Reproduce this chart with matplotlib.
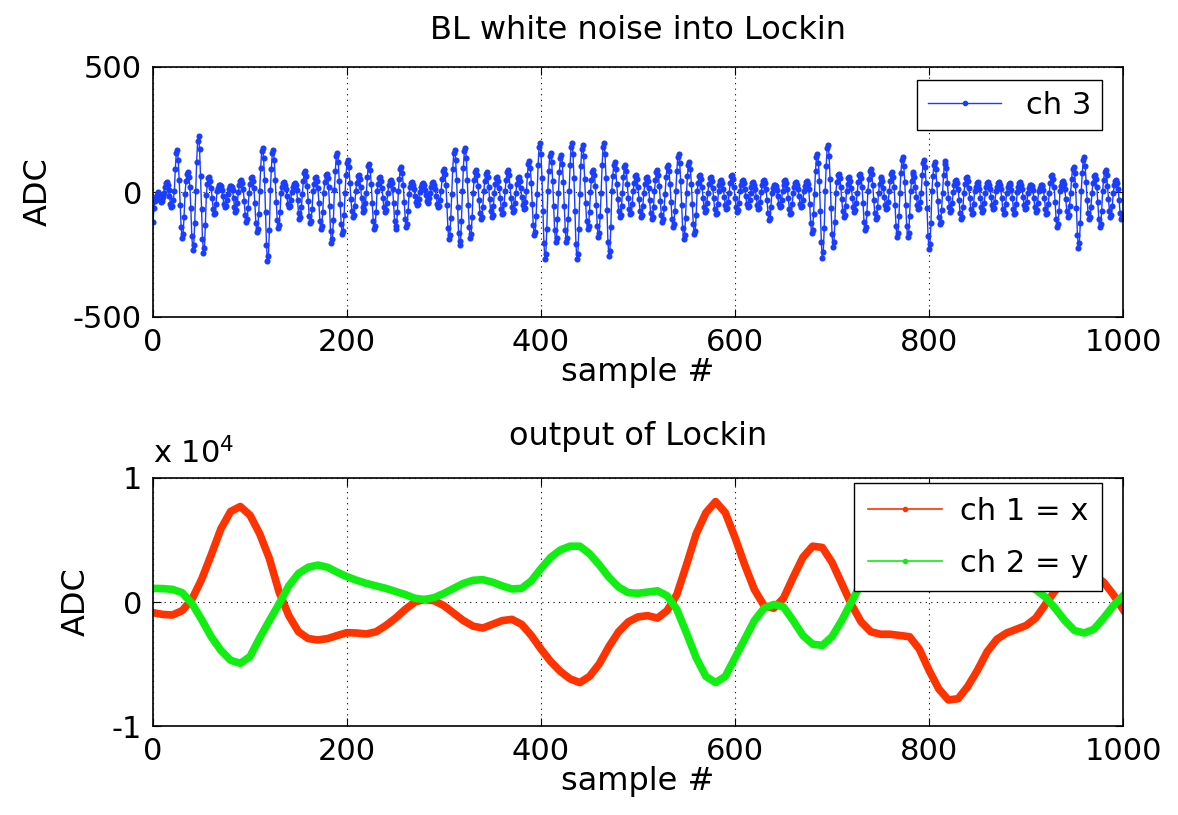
import numpy as np
import matplotlib
matplotlib.use("Agg")
import matplotlib.pyplot as plt
from matplotlib.lines import Line2D

plt.rcParams["font.family"] = ["DejaVu Sans"]
plt.rcParams["axes.unicode_minus"] = False

# ch 3: band-limited noise fed into the lockin, one value per sample
ch3 = [
    -120, -65, -35, -20, -10, 2, -8, -30, -40, -35, -20,
    -5, 20, 36, 40, 30, 10, -17, -46, -59, -55, -32,
    4, 92, 155, 168, 129, 48, -52, -141, -183, -168, -100,
    -8, 43, 73, 79, 61, 22, -65, -176, -230, -211, -125,
    6, 122, 205, 223, 171, 63, -69, -186, -243, -223, -132,
    -10, 32, 55, 59, 46, 17, -25, -68, -89, -82, -49,
    3, 16, 27, 30, 23, 8, -17, -46, -59, -55, -32,
    -6, 14, 23, 25, 19, 7, -22, -61, -79, -73, -43,
    2, 27, 46, 50, 38, 14, -34, -91, -119, -109, -65,
    -4, 32, 55, 59, 46, 17, -45, -122, -158, -146, -86,
    5, 97, 164, 178, 137, 50, -78, -213, -277, -255, -151,
    8, 92, 155, 168, 129, 48, -41, -110, -144, -132, -78,
    -3, 22, 36, 40, 30, 11, -17, -46, -59, -55, -32,
    2, 19, 32, 35, 27, 10, -31, -84, -109, -100, -59,
    -6, 46, 77, 84, 65, 24, -35, -95, -124, -114, -68,
    4, 32, 55, 59, 46, 17, -42, -114, -149, -137, -81,
    -2, 41, 68, 74, 57, 21, -57, -156, -203, -187, -111,
    7, 86, 146, 158, 122, 45, -48, -129, -168, -155, -92,
    -5, 70, 118, 129, 99, 36, -28, -76, -99, -91, -54,
    3, 38, 64, 69, 53, 20, -22, -61, -79, -73, -43,
    -4, 62, 105, 114, 87, 32, -42, -114, -149, -137, -81,
    6, 32, 55, 59, 46, 17, -22, -61, -79, -73, -43,
    -2, 27, 46, 50, 38, 14, -42, -114, -149, -137, -81,
    5, 54, 91, 99, 76, 28, -39, -106, -139, -127, -76,
    -7, 22, 36, 40, 30, 11, -14, -38, -50, -46, -27,
    2, 19, 32, 35, 27, 10, -13, -34, -45, -41, -24,
    -3, 22, 36, 40, 30, 11, -17, -46, -59, -55, -32,
    4, 51, 86, 94, 72, 27, -53, -144, -188, -173, -103,
    -6, 92, 155, 168, 129, 48, -60, -163, -213, -196, -116,
    3, 97, 164, 178, 137, 50, -52, -141, -183, -168, -100,
    -5, 49, 82, 89, 68, 25, -31, -84, -109, -100, -59,
    4, 43, 73, 79, 61, 22, -28, -76, -99, -91, -54,
    -2, 32, 55, 59, 46, 17, -25, -68, -89, -82, -49,
    6, 49, 82, 89, 68, 25, -22, -61, -79, -73, -43,
    -4, 32, 55, 59, 46, 17, -20, -53, -69, -64, -38,
    3, 68, 114, 124, 95, 35, -49, -133, -173, -159, -95,
    -6, 108, 182, 198, 152, 56, -76, -205, -267, -246, -146,
    5, 86, 146, 158, 122, 45, -56, -152, -198, -182, -108,
    -3, 81, 137, 149, 114, 42, -56, -152, -198, -182, -108,
    4, 108, 182, 198, 152, 56, -76, -207, -269, -248, -147,
    -7, 103, 173, 188, 144, 53, -42, -114, -149, -137, -81,
    2, 49, 82, 89, 68, 25, -50, -137, -178, -164, -97,
    -5, 108, 182, 198, 152, 56, -73, -198, -257, -237, -140,
    6, 65, 109, 119, 91, 34, -28, -76, -99, -91, -54,
    -3, 59, 100, 109, 84, 31, -25, -68, -89, -82, -49,
    4, 38, 64, 69, 53, 20, -28, -76, -99, -91, -54,
    -2, 32, 55, 59, 46, 17, -31, -84, -109, -100, -59,
    5, 49, 82, 89, 68, 25, -34, -91, -119, -109, -65,
    -6, 59, 100, 109, 84, 31, -39, -106, -139, -127, -76,
    3, 84, 141, 153, 118, 43, -53, -144, -188, -173, -103,
    -4, 65, 109, 119, 91, 34, -48, -129, -168, -155, -92,
    5, 38, 64, 69, 53, 20, -22, -61, -79, -73, -43,
    -2, 32, 55, 59, 46, 17, -25, -68, -89, -82, -49,
    4, 27, 46, 50, 38, 14, -20, -53, -69, -64, -38,
    -5, 38, 64, 69, 53, 20, -22, -61, -79, -73, -43,
    3, 27, 46, 50, 38, 14, -17, -46, -59, -55, -32,
    -4, 22, 36, 40, 30, 11, -20, -53, -69, -64, -38,
    2, 27, 46, 50, 38, 14, -31, -85, -111, -102, -60,
    -3, 16, 27, 30, 23, 8, -17, -46, -59, -55, -32,
    5, 27, 46, 50, 38, 14, -25, -68, -89, -82, -49,
    -2, 22, 36, 40, 30, 11, -17, -46, -59, -55, -32,
    4, 24, 41, 45, 34, 13, -46, -125, -163, -150, -89,
    -6, 84, 141, 153, 118, 43, -74, -201, -262, -241, -143,
    5, 104, 175, 190, 146, 54, -62, -167, -218, -200, -119,
    -3, 41, 68, 74, 57, 21, -28, -76, -99, -91, -54,
    4, 32, 55, 59, 46, 17, -22, -61, -79, -73, -43,
    -5, 41, 68, 74, 57, 21, -43, -118, -153, -141, -84,
    3, 51, 86, 94, 72, 27, -31, -84, -109, -100, -59,
    -2, 32, 55, 59, 46, 17, -20, -53, -69, -64, -38,
    5, 43, 73, 79, 61, 22, -50, -137, -178, -164, -97,
    -4, 76, 127, 139, 106, 39, -50, -137, -178, -164, -97,
    3, 43, 73, 79, 61, 22, -20, -53, -69, -64, -38,
    -5, 70, 118, 129, 99, 36, -64, -175, -228, -209, -124,
    4, 65, 109, 119, 91, 34, -36, -99, -129, -118, -70,
    -3, 68, 114, 124, 95, 35, -22, -61, -79, -73, -43,
    2, 27, 46, 50, 38, 14, -31, -84, -109, -100, -59,
    -4, 32, 55, 59, 46, 17, -25, -68, -89, -82, -49,
    3, 22, 36, 40, 30, 11, -22, -61, -79, -73, -43,
    -2, 22, 36, 40, 30, 11, -20, -53, -69, -64, -38,
    4, 22, 36, 40, 30, 11, -25, -68, -89, -82, -49,
    -3, 19, 32, 35, 27, 10, -25, -68, -89, -82, -49,
    2, 22, 36, 40, 30, 11, -20, -53, -69, -64, -38,
    -4, 16, 27, 30, 23, 8, -22, -61, -79, -73, -43,
    3, 16, 27, 30, 23, 8, -25, -68, -89, -82, -49,
    -2, 38, 64, 69, 53, 20, -39, -106, -139, -127, -76,
    4, 24, 41, 45, 34, 13, -28, -76, -99, -91, -54,
    -5, 54, 91, 99, 76, 28, -63, -171, -223, -205, -122,
    6, 76, 127, 139, 106, 39, -31, -84, -109, -100, -59,
    -3, 38, 64, 69, 53, 20, -39, -106, -139, -127, -76,
    4, 49, 82, 89, 68, 25, -28, -76, -99, -91, -54,
    -2, 27, 46, 50, 38, 14, -31, -84, -109, -100, -105,
]
sample = np.arange(len(ch3))

# lockin outputs, read every 10 samples
lock_n = np.arange(0, 1001, 10)
ch1_x = [
    -860, -1000, -1050, -700, 200, 1800, 3800, 5900, 7300, 7700,
    7000, 5500, 3500, 800, -1100, -2400, -2950, -3060, -2950, -2700,
    -2470, -2500, -2580, -2400, -1900, -1300, -600, 0, 200, 100,
    -300, -900, -1500, -1950, -2100, -1800, -1500, -1400, -1800, -2700,
    -3800, -4800, -5600, -6200, -6500, -6000, -5000, -3600, -2400, -1600,
    -1200, -1100, -1300, -700, 600, 3000, 5500, 7200, 8100, 7200,
    5200, 3000, 1000, -300, -500, 300, 2000, 3600, 4500, 4400,
    3200, 1500, -200, -1600, -2400, -2600, -2600, -2700, -2800, -3800,
    -5500, -7000, -7900, -7800, -6800, -5500, -4000, -3000, -2500, -2200,
    -1900, -1300, -200, 900, 2000, 2700, 2800, 2200, 1600, 600,
    -600,
]
ch2_y = [
    1100, 1080, 1020, 750, -100, -1400, -2800, -3900, -4700, -4950,
    -4400, -2900, -1500, -150, 1300, 2300, 2800, 2980, 2800, 2400,
    2040, 1750, 1500, 1300, 1100, 850, 600, 300, 200, 350,
    700, 1100, 1500, 1750, 1800, 1600, 1300, 1050, 1100, 1700,
    2700, 3600, 4200, 4500, 4500, 3900, 3000, 2000, 1200, 750,
    700, 800, 900, 500, -600, -2500, -4500, -6000, -6500, -6000,
    -4500, -3000, -1500, -500, -200, -400, -1500, -2700, -3400, -3500,
    -2800, -1500, 0, 1500, 2800, 3800, 4300, 4300, 4000, 3500,
    3000, 2600, 2300, 2200, 2300, 2500, 2600, 2500, 2200, 1800,
    1400, 1000, 400, -500, -1500, -2300, -2500, -2200, -1300, -300,
    500,
]

blue = "#1a3dff"
red = "#ff3300"
green = "#11ee11"
fs_tick = 22
fs = 23

fig = plt.figure(figsize=(11.78, 8.15), dpi=100)
ax1 = fig.add_axes([153 / 1178, 1 - 317 / 815, 970 / 1178, 250 / 815])
ax2 = fig.add_axes([153 / 1178, 1 - 726 / 815, 970 / 1178, 248 / 815])


def style(ax):
    ax.set_xlim(0, 1000)
    ax.set_xticks(range(0, 1001, 200))
    ax.tick_params(direction="in", top=True, right=True, length=6, width=0.8,
                   labelsize=fs_tick, pad=8)
    ax.grid(True, color="k", linestyle=(0, (1, 4)), linewidth=0.8)
    for sp in ax.spines.values():
        sp.set_linewidth(1.2)
    ax.set_xlabel("sample #", fontsize=fs, labelpad=0)
    ax.set_ylabel("ADC", fontsize=fs, labelpad=14)


# top: noise input
ax1.plot(sample, ch3, color=blue, lw=1.0, marker="o", ms=4.4, mew=0,
         label="ch 3")
ax1.set_ylim(-500, 500)
ax1.set_yticks([-500, 0, 500])
style(ax1)
ax1.set_title("BL white noise into Lockin", fontsize=fs, pad=20)
h1 = [Line2D([], [], color=blue, lw=1, marker=".", ms=6)]
ax1.legend(h1, ["ch 3"], loc="upper right", bbox_to_anchor=(1 - 21 / 970, 1 - 13 / 250),
           borderaxespad=0, fontsize=fs_tick, fancybox=False, framealpha=1,
           edgecolor="k", handlelength=2.4, numpoints=1, borderpad=0.35)

# bottom: lockin output
ax2.plot(lock_n, ch1_x, color=red, lw=5.5)
ax2.plot(lock_n, ch2_y, color=green, lw=5.5)
ax2.set_ylim(-1e4, 1e4)
ax2.set_yticks([-1e4, 0, 1e4])
ax2.set_yticklabels(["-1", "0", "1"])
style(ax2)
ax2.set_title("output of Lockin", fontsize=fs, pad=24)
ax2.text(0, 1 + 15 / 248, r"x 10$^{4}$", transform=ax2.transAxes,
         ha="left", va="baseline", fontsize=fs_tick)
h2 = [Line2D([], [], color=red, lw=1.2, marker=".", ms=6),
      Line2D([], [], color=green, lw=1.2, marker=".", ms=6)]
leg = ax2.legend(h2, ["ch 1 = x", "ch 2 = y"], loc="upper right",
                 bbox_to_anchor=(1 - 21 / 970, 1 - 5 / 248), borderaxespad=0,
                 fontsize=fs_tick, fancybox=False, framealpha=1, edgecolor="k",
                 handlelength=2.4, handletextpad=0.6, numpoints=1,
                 borderpad=0.45, labelspacing=0.75)
leg.set_zorder(5)

fig.savefig("out.png", dpi=100)
